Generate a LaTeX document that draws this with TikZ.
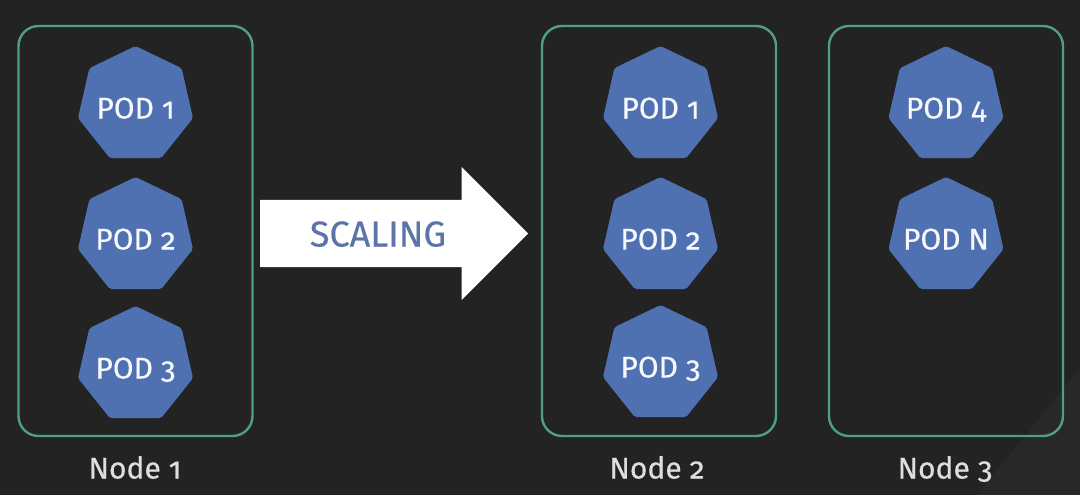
\documentclass[tikz,border=0pt]{standalone}
\usepackage{fontspec}
\setmainfont[Numbers=OldStyle,FakeBold=0.4]{Fira Sans}
\usepackage{tikz}
\usetikzlibrary{shapes.geometric,shapes.arrows}
\definecolor{bgdark}{HTML}{232323}
\definecolor{bgwedge}{HTML}{282828}
\definecolor{boxgreen}{HTML}{4F9E87}
\definecolor{podblue}{HTML}{4F71B2}
\definecolor{scaleblue}{HTML}{5C75A8}
\tikzset{
	nodebox/.style={draw=boxgreen,line width=2.4pt,rounded corners=20pt,minimum width=234pt,minimum height=410pt,inner sep=0pt},
	podtext/.style={text=white!95!podblue,font=\fontsize{30}{30}\selectfont,text height=21pt,text depth=0pt,inner sep=0pt,yshift=-3pt},
	pod/.style={regular polygon,regular polygon sides=7,fill=podblue,rounded corners=2pt,minimum size=118pt,inner sep=0pt,label={[podtext]center:#1}},
	nodelabel/.style={text=white!87!black,font=\fontsize{30}{30}\selectfont,text height=21pt,text depth=0pt,inner sep=0pt},
	bigarrow/.style={single arrow,fill=white,single arrow head extend=33pt,single arrow head indent=0pt,minimum width=133pt,minimum height=268pt,inner xsep=0pt,inner ysep=33.5pt},
	scalinglabel/.style={text=scaleblue,font=\fontsize{36}{36}\selectfont,text height=25pt,text depth=0pt,inner sep=0pt}
}

\begin{document}
\begin{tikzpicture}[x=1pt,y=-1pt]
						\useasboundingbox (0, 0) rectangle (1080, 495);
						\fill [bgdark] (0, 0) rectangle (1080, 495);
						\fill [bgwedge] (1080, 368) -- (1080, 495) -- (977, 495) -- cycle;

						\node [nodebox] (box1) at (135.5, 231) {};
						\node [nodebox] (box2) at (659, 231) {};
						\node [nodebox] (box3) at (946, 231) {};

						\node [pod={POD 1}] (pod11) at (135.5, 105) {};
						\node [pod={POD 2}] (pod12) at (135.5, 236) {};
						\node [pod={POD 3}] (pod13) at (135.5, 365) {};

						\node [pod={POD 1}] (pod21) at (660.5, 105) {};
						\node [pod={POD 2}] (pod22) at (660.5, 236) {};
						\node [pod={POD 3}] (pod23) at (660.5, 364) {};

						\node [pod={POD 4}] (pod34) at (946, 105) {};
						\node [pod={POD N}] (pod3n) at (946, 236) {};

						\node [bigarrow,anchor=tail] (arrow) at (260, 233.5) {};
						\node [scalinglabel] (scaling) at (378, 234) {SCALING};

						\node [nodelabel] (label1) at (135, 468) {Node 1};
						\node [nodelabel] (label2) at (657, 468) {Node 2};
						\node [nodelabel] (label3) at (945, 468) {Node 3};
					\end{tikzpicture}
\end{document}
